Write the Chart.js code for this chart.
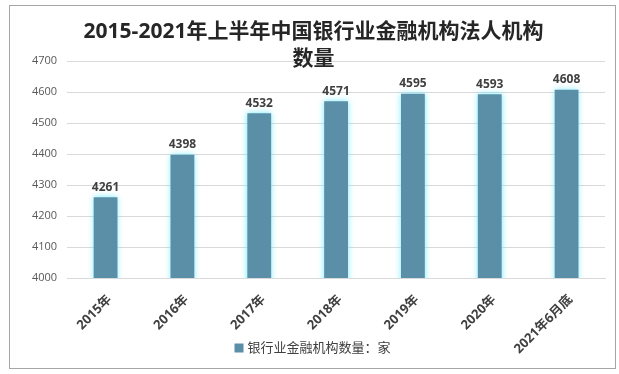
<!DOCTYPE html>
<html>
<head>
<meta charset="utf-8">
<script src="https://cdn.jsdelivr.net/npm/chart.js@4.4.1/dist/chart.umd.min.js"></script>
<style>
  html, body { margin: 0; padding: 0; background: #fff; }
  .frame {
    position: absolute; left: 9px; top: 5px;
    width: 605px; height: 362px;
    border: 1px solid #a6a6a6;
  }
</style>
</head>
<body>
<div class="frame"><canvas id="barChart"></canvas></div>
<script>
// 数据
const categories = ['2015年', '2016年', '2017年', '2018年', '2019年', '2020年', '2021年6月底'];
const counts = [4261, 4398, 4532, 4571, 4595, 4593, 4608];
const yTicks = [4000, 4100, 4200, 4300, 4400, 4500, 4600, 4700];
const seriesName = '银行业金融机构数量：家';
const chartTitle = ['2015-2021年上半年中国银行业金融机构法人机构', '数量'];

const baseFont = '"Open Sans", "Noto Sans CJK SC", sans-serif';
const barColor = '#5b8fa8';

// 柱子外发光
const glowPlugin = {
    id: 'glow',
    beforeDatasetsDraw(chart) {
        const ctx = chart.ctx;
        ctx.save();
        ctx.shadowColor = 'rgba(110, 235, 255, 0.95)';
        ctx.shadowBlur = 6;
    },
    afterDatasetsDraw(chart) {
        chart.ctx.restore();
    }
};

// 数据标签 + 底部图例
const labelPlugin = {
    id: 'barLabels',
    afterDatasetsDraw(chart) {
        const ctx = chart.ctx;
        const meta = chart.getDatasetMeta(0);
        ctx.save();
        ctx.font = 'bold 12px ' + baseFont;
        ctx.fillStyle = '#404040';
        ctx.textAlign = 'center';
        ctx.textBaseline = 'bottom';
        meta.data.forEach((bar, i) => {
            ctx.fillText(counts[i], bar.x, bar.y - 4);
        });
        ctx.restore();
    },
    afterDraw(chart) {
        const ctx = chart.ctx;
        ctx.save();
        ctx.font = '13px ' + baseFont;
        const textW = ctx.measureText(seriesName).width;
        const boxW = 9;
        const total = boxW + 4 + textW;
        const cx = chart.width / 2;
        const y = chart.height - 20;
        const x0 = cx - total / 2;
        ctx.fillStyle = barColor;
        ctx.fillRect(x0, y - boxW / 2, boxW, boxW);
        ctx.fillStyle = '#404040';
        ctx.textAlign = 'left';
        ctx.textBaseline = 'middle';
        ctx.fillText(seriesName, x0 + boxW + 4, y);
        ctx.restore();
    }
};

const ctx = document.getElementById('barChart').getContext('2d');
new Chart(ctx, {
    type: 'bar',
    data: {
        labels: categories,
        datasets: [{
            label: seriesName,
            data: counts,
            backgroundColor: barColor,
            borderWidth: 0,
            barPercentage: 0.31,
            categoryPercentage: 1
        }]
    },
    plugins: [glowPlugin, labelPlugin],
    options: {
        responsive: true,
        maintainAspectRatio: false,
        animation: false,
        layout: {
            padding: { left: 12, right: 10, top: 0, bottom: 0 }
        },
        plugins: {
            title: {
                display: true,
                text: chartTitle,
                color: '#262626',
                font: { family: baseFont, size: 21, weight: 'bold', lineHeight: 1.29 },
                padding: { top: 12, bottom: -11 }
            },
            legend: { display: false },
            tooltip: { enabled: false }
        },
        scales: {
            y: {
                min: 4000,
                max: 4700,
                afterBuildTicks(scale) {
                    scale.ticks = yTicks.map(v => ({ value: v }));
                },
                ticks: {
                    color: '#595959',
                    font: { family: baseFont, size: 11 },
                    padding: 10,
                    callback: v => String(v)
                },
                grid: { color: '#d9d9d9', drawTicks: false },
                border: { display: false }
            },
            x: {
                afterFit(scale) {
                    scale.height = 90;
                },
                ticks: {
                    minRotation: 45,
                    maxRotation: 45,
                    color: '#404040',
                    font: { family: baseFont, size: 13, weight: 'bold' },
                    padding: 6,
                    labelOffset: 4
                },
                grid: { display: false },
                border: { color: '#d9d9d9' }
            }
        }
    }
});
</script>
</body>
</html>
